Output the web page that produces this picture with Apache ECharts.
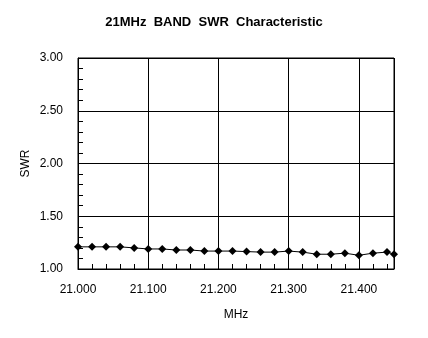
<!DOCTYPE html>
<html><head><meta charset="utf-8">
<script src="https://cdn.jsdelivr.net/npm/echarts@6/dist/echarts.min.js"></script>
<style>html,body{margin:0;padding:0;background:#fff}#c{width:428px;height:338px}</style>
</head><body><div id="c"></div>
<script>
const titleText = '21MHz  BAND  SWR  Characteristic';
const xName = 'MHz';
const yName = 'SWR';
const freqs = [21.00,21.02,21.04,21.06,21.08,21.10,21.12,21.14,21.16,21.18,21.20,21.22,21.24,21.26,21.28,21.30,21.32,21.34,21.36,21.38,21.40,21.42,21.44,21.45];
const swr   = [1.21,1.21,1.21,1.21,1.20,1.19,1.19,1.18,1.18,1.17,1.17,1.17,1.165,1.16,1.16,1.17,1.16,1.14,1.14,1.15,1.13,1.15,1.16,1.14];
const font = 'Liberation Sans, Arial, sans-serif';
const chart = echarts.init(document.getElementById('c'), null, {renderer:'canvas'});
chart.setOption({
  backgroundColor:'#fff',
  animation:false,
  title:{text:titleText,left:'center',top:11,textStyle:{fontFamily:font,fontSize:13,fontWeight:'bold',color:'#000'}},
  grid:{left:78,right:34,top:58,bottom:69,show:true,borderColor:'#000',borderWidth:1,backgroundColor:'transparent'},
  xAxis:{type:'value',min:21.0,max:21.45,interval:0.1,
    name:xName,nameLocation:'middle',nameGap:40,nameMoveOverlap:false,nameTextStyle:{fontFamily:font,fontSize:12,color:'#000'},
    axisLine:{show:true,lineStyle:{color:'#000'}},
    axisTick:{show:true,inside:true,length:5,lineStyle:{color:'#000'}},
    minorTick:{show:true,splitNumber:5,length:5,lineStyle:{color:'#000'}},
    splitLine:{show:true,lineStyle:{color:'#000',width:1}},
    axisLabel:{margin:15,fontFamily:font,fontSize:12,color:'#000',
      formatter:v=>{const k=Math.round((v-21)*10);return Math.abs(v-21-k/10)<1e-6?v.toFixed(3):'';}}
  },
  yAxis:{type:'value',min:1,max:3,interval:0.5,
    name:yName,nameLocation:'middle',nameGap:46,nameMoveOverlap:false,nameTextStyle:{fontFamily:font,fontSize:12,color:'#000'},
    axisLine:{show:true,lineStyle:{color:'#000'}},
    axisTick:{show:true,inside:true,length:5,lineStyle:{color:'#000'}},
    minorTick:{show:true,splitNumber:5,length:5,lineStyle:{color:'#000'}},
    splitLine:{show:true,lineStyle:{color:'#000',width:1}},
    axisLabel:{margin:15,fontFamily:font,fontSize:12,color:'#000',formatter:v=>v.toFixed(2)}
  },
  series:[{type:'line',data:freqs.map((f,i)=>[f,swr[i]]),symbol:'diamond',symbolSize:8,
    lineStyle:{color:'#000',width:1},itemStyle:{color:'#000'},clip:false}]
});
</script></body></html>
